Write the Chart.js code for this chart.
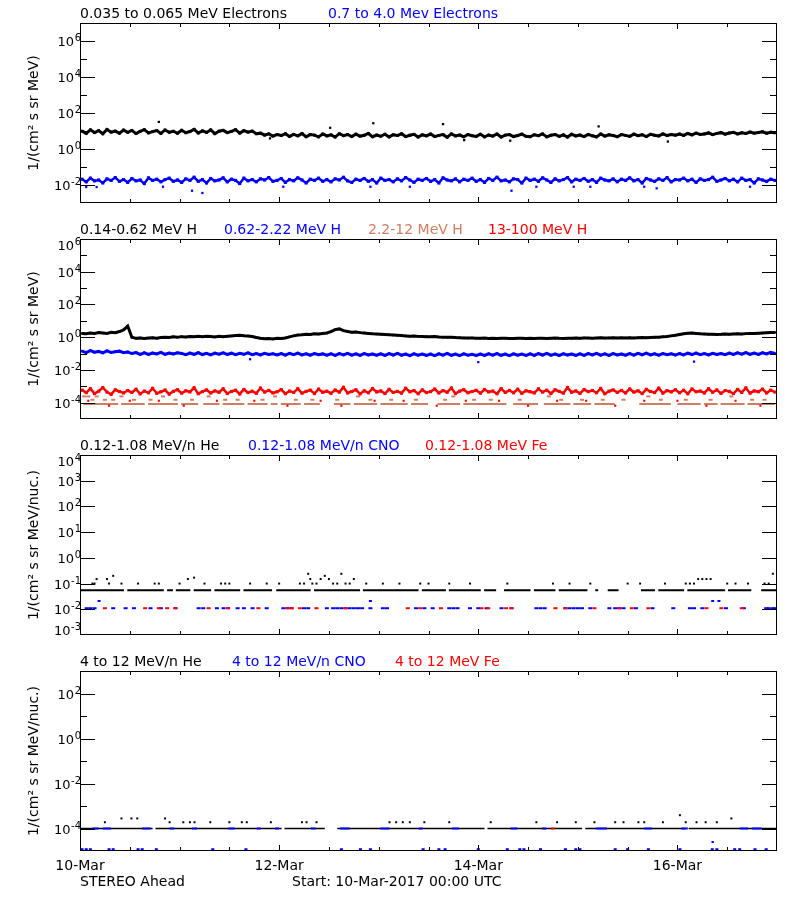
<!DOCTYPE html>
<html>
<head>
<meta charset="utf-8">
<title>STEREO Ahead</title>
<script src="https://cdn.jsdelivr.net/npm/chart.js@4/dist/chart.umd.min.js"></script>
<style>
  html, body { margin: 0; padding: 0; background: #fff; }
  #wrap { position: relative; width: 800px; height: 900px; }
  #wrap canvas { position: absolute; left: 0; }
</style>
</head>
<body>
<div id="wrap">
  <canvas id="p1" width="800" height="216" style="top:0"></canvas>
  <canvas id="p2" width="800" height="216" style="top:216px"></canvas>
  <canvas id="p3" width="800" height="216" style="top:432px"></canvas>
  <canvas id="p4" width="800" height="252" style="top:648px"></canvas>
</div>
<script>
/* global Chart */

// time axis: hours since 10-Mar-2017 00:00, 7 days
const xTickHours = [0, 48, 96, 144];
const xTickLabels = ["10-Mar", "12-Mar", "14-Mar", "16-Mar"];

// ---- panel 1: electrons, hourly, one row = 12 h
const elecLo = [
  9.8, 7.4, 11.6, 8.2, 10.5, 7.0, 12.1, 8.6, 9.9, 7.6, 11.2, 8.4,
  10.8, 7.2, 9.6, 11.9, 7.8, 9.2, 10.6, 7.3, 11.4, 8.5, 9.7, 7.5,
  11.0, 8.0, 9.4, 12.3, 7.7, 10.2, 8.3, 11.5, 7.1, 9.8, 10.9, 8.1,
  9.5, 11.8, 7.6, 10.4, 8.7, 9.9, 7.0, 7.6, 5.9, 6.9, 5.2, 6.4,
  5.6, 7.0, 5.0, 6.5, 5.4, 7.2, 4.8, 6.3, 5.9, 4.7, 6.8, 5.3,
  6.1, 4.6, 7.1, 5.5, 6.4, 4.9, 6.7, 5.2, 5.8, 7.3, 4.8, 6.0,
  5.1, 6.6, 4.7, 6.2, 5.6, 7.0, 4.9, 5.8, 6.5, 4.6, 6.1, 5.4,
  6.8, 4.9, 5.7, 6.3, 4.5, 6.9, 5.3, 6.0, 4.8, 6.4, 5.5, 5.0,
  6.6, 4.7, 6.0, 5.2, 6.8, 4.6, 5.9, 6.3, 4.9, 5.6, 6.7, 5.1,
  4.8, 6.2, 5.5, 6.9, 4.7, 5.8, 6.4, 5.0, 6.1, 4.6, 6.6, 5.3,
  6.0, 4.9, 6.5, 5.4, 4.7, 6.8, 5.2, 6.1, 5.6, 4.8, 6.3, 5.7,
  5.0, 6.7, 5.5, 6.2, 4.9, 6.6, 5.8, 5.3, 6.9, 5.6, 6.4, 5.9,
  6.8, 5.7, 7.3, 6.1, 7.6, 6.4, 6.9, 7.8, 6.3, 7.4, 8.1, 6.7,
  7.7, 8.4, 6.9, 8.0, 7.3, 8.8, 7.6, 8.3, 9.1, 7.5, 8.6, 8.0,
];
const elecLoStray = [[19, 32], [45.8, 3.9], [60.3, 15], [70.7, 27], [87.5, 24],
  [92.6, 3.1], [103.7, 2.9], [125, 18], [141.7, 2.6]];

const elecHi = [
  .021, .015, .024, .017, .019, .013, .022, .018, .026, .016, .020, .014,
  .023, .017, .019, .012, .025, .018, .021, .015, .020, .024, .016, .019,
  .014, .022, .018, .027, .016, .020, .013, .023, .017, .019, .025, .015,
  .021, .018, .012, .024, .017, .020, .015, .022, .019, .026, .016, .018,
  .023, .014, .020, .017, .025, .019, .013, .021, .018, .024, .016, .020,
  .015, .022, .019, .027, .017, .014, .021, .018, .023, .016, .020, .013,
  .024, .018, .020, .015, .022, .017, .026, .019, .014, .021, .018, .023,
  .016, .020, .013, .025, .019, .017, .022, .015, .021, .018, .024, .016,
  .020, .014, .023, .018, .027, .017, .019, .015, .022, .020, .013, .024,
  .018, .021, .016, .025, .019, .014, .022, .017, .020, .026, .015, .021,
  .018, .023, .016, .020, .014, .024, .019, .017, .022, .015, .021, .018,
  .025, .017, .020, .013, .023, .019, .016, .022, .018, .026, .015, .020,
  .019, .024, .017, .021, .014, .022, .018, .020, .027, .016, .019, .023,
  .017, .021, .015, .024, .018, .020, .013, .022, .019, .016, .021, .018,
];
const elecHiStray = [[1.5, .0077], [4, .0077], [20, .008], [27, .0048], [29.5, .0036],
  [49, .008], [70, .008], [79.5, .008], [104, .0048], [110, .008], [119, .008],
  [123, .008], [136, .008], [139, .0065], [161.5, .008]];

// ---- panel 2: protons
const protA = [
  1.7, 1.6, 1.8, 1.7, 1.9, 1.8, 1.7, 2.0, 1.9, 2.2, 2.8, 4.8,
  1.0, 0.85, 0.9, 0.82, 0.88, 0.92, 0.86, 0.95, 1.0, 0.97, 1.05, 1.0,
  1.08, 1.02, 1.1, 1.05, 1.12, 1.07, 1.15, 1.1, 1.04, 1.12, 1.08, 1.14,
  1.2, 1.25, 1.3, 1.22, 1.18, 1.1, 0.95, 0.86, 0.8, 0.83, 0.78, 0.85,
  0.82, 0.9, 1.05, 1.2, 1.35, 1.4, 1.5, 1.45, 1.6, 1.55, 1.7, 1.8,
  2.2, 2.9, 3.2, 2.5, 2.2, 2.0, 2.1, 1.9, 1.8, 1.7, 1.6, 1.55,
  1.5, 1.45, 1.4, 1.35, 1.3, 1.25, 1.2, 1.15, 1.18, 1.12, 1.1, 1.08,
  1.05, 1.1, 1.02, 1.0, 0.98, 1.0, 0.95, 0.93, 0.9, 0.88, 0.9, 0.86,
  0.85, 0.88, 0.84, 0.86, 0.83, 0.85, 0.87, 0.84, 0.82, 0.86, 0.85, 0.83,
  0.86, 0.84, 0.87, 0.85, 0.83, 0.86, 0.88, 0.85, 0.84, 0.87, 0.86, 0.89,
  0.87, 0.9, 0.88, 0.86, 0.89, 0.91, 0.88, 0.9, 0.92, 0.89, 0.91, 0.9,
  0.93, 0.9, 0.92, 0.95, 0.93, 0.96, 0.98, 1.0, 1.05, 1.1, 1.2, 1.3,
  1.45, 1.6, 1.75, 1.8, 1.7, 1.6, 1.55, 1.5, 1.52, 1.48, 1.5, 1.55,
  1.5, 1.58, 1.6, 1.55, 1.65, 1.7, 1.68, 1.75, 1.8, 1.85, 1.9, 1.95,
];
const protB = [
  .14, .115, .15, .12, .135, .11, .145, .118, .13, .14, .112, .125,
  .1, .115, .09, .112, .088, .108, .095, .117, .09, .106, .094, .11,
  .102, .085, .108, .09, .112, .087, .104, .084, .106, .092, .11, .088,
  .105, .086, .103, .09, .11, .085, .1, .082, .104, .088, .098, .083,
  .1, .08, .102, .086, .106, .082, .097, .079, .1, .084, .095, .08,
  .097, .078, .1, .083, .104, .08, .095, .077, .099, .082, .094, .079,
  .095, .076, .098, .081, .102, .079, .093, .075, .097, .08, .092, .078,
  .094, .075, .097, .08, .101, .078, .092, .074, .096, .079, .091, .077,
  .094, .076, .097, .08, .1, .078, .093, .075, .096, .08, .092, .077,
  .095, .077, .098, .081, .102, .079, .094, .076, .097, .081, .093, .078,
  .096, .078, .1, .082, .103, .08, .095, .077, .098, .082, .094, .079,
  .098, .08, .102, .084, .105, .082, .097, .079, .1, .084, .096, .081,
  .101, .083, .105, .087, .108, .085, .1, .082, .104, .087, .1, .085,
  .106, .088, .11, .092, .114, .09, .106, .088, .112, .095, .118, .1,
];
const protBStray = [[41, .045], [96, .03], [148, .032]];

// 2.2-12 MeV H: one-count level runs [from, to] in hours, plus extra counts
const protCLevel = 8.2e-5;
const protCRuns = [[0.8, 9.2], [9.9, 15.6], [16.4, 23.6], [24.4, 28.5], [29.7, 33.6],
  [34.4, 39.6], [40.4, 45.2], [46, 47.6], [48.4, 53.2], [54, 57.8], [61.2, 65.2],
  [66, 71.6], [72.4, 79], [79.8, 83.9], [86.2, 91.6], [92.4, 102.8], [104.4, 110.4],
  [111.8, 118.2], [118.9, 123.2], [124, 128.9], [134.8, 142.4], [144, 149.6],
  [150.4, 153.7], [154.4, 160.2], [160.9, 167.5]];
const protCExtra = [[1, 2.4e-4], [2, 2.4e-4], [3, 1.5e-4], [4, 2.4e-4], [6, 1.5e-4],
  [8, 1.5e-4], [10, 2.4e-4], [13, 1.5e-4], [17, 1.5e-4], [20, 2.4e-4], [23, 1.5e-4],
  [27, 1.5e-4], [31, 2.4e-4], [35, 1.5e-4], [38, 1.5e-4], [44, 1.5e-4], [47, 2.4e-4],
  [52, 1.5e-4], [56, 1.5e-4], [62, 1.5e-4], [67, 2.4e-4], [70, 1.5e-4], [75, 1.5e-4],
  [81, 1.5e-4], [88, 1.5e-4], [90, 2.4e-4], [95, 1.5e-4], [99, 1.5e-4], [106, 1.5e-4],
  [113, 2.4e-4], [116, 1.5e-4], [121, 1.5e-4], [126, 1.5e-4], [131, 1.5e-4],
  [137, 2.4e-4], [140, 1.5e-4], [146, 1.5e-4], [152, 1.5e-4], [157, 2.4e-4],
  [162, 1.5e-4], [165, 1.5e-4]];

// 13-100 MeV H, in units of 1e-4
const protD = [
  5.8, 4.1, 7.2, 3.6, 5.0, 8.4, 4.4, 3.2, 6.1, 4.8, 3.9, 5.5,
  4.2, 6.6, 3.4, 5.1, 4.0, 7.5, 3.7, 4.6, 5.9, 3.3, 4.9, 6.2,
  3.8, 5.3, 4.5, 8.1, 3.5, 4.7, 6.0, 3.9, 5.2, 4.3, 7.0, 3.6,
  4.8, 5.7, 3.4, 6.4, 4.1, 5.0, 3.7, 7.8, 4.4, 5.6, 3.9, 4.6,
  6.3, 3.5, 5.1, 4.2, 7.1, 3.8, 4.9, 5.8, 3.6, 6.7, 4.3, 5.0,
  3.7, 5.9, 4.4, 8.6, 3.9, 4.8, 6.1, 3.4, 5.3, 4.0, 7.3, 4.5,
  5.2, 3.6, 6.5, 4.2, 4.9, 3.8, 7.6, 4.6, 5.5, 3.5, 6.0, 4.1,
  4.7, 6.8, 3.9, 5.4, 4.3, 7.9, 3.6, 5.0, 6.2, 4.0, 4.8, 5.7,
  3.8, 6.4, 4.5, 5.1, 3.5, 7.2, 4.2, 5.6, 4.0, 6.6, 3.7, 5.3,
  4.6, 3.9, 7.0, 4.4, 5.8, 3.6, 6.1, 4.9, 3.8, 8.3, 4.3, 5.2,
  3.7, 6.3, 4.7, 5.5, 4.0, 7.4, 3.5, 5.0, 6.0, 4.2, 5.6, 3.9,
  6.9, 4.4, 5.3, 3.6, 6.5, 4.8, 4.1, 7.7, 3.8, 5.4, 4.5, 6.2,
  4.0, 5.7, 3.5, 6.8, 4.6, 5.1, 3.9, 7.1, 4.3, 6.0, 3.7, 5.5,
  4.9, 3.6, 6.4, 4.2, 8.0, 3.8, 5.2, 4.6, 6.7, 3.9, 5.8, 4.4,
];
const protDLow = [[2, 1.3], [7, 0.65], [12, 1.3], [19, 1.3], [25, 0.65], [33, 1.3],
  [42, 1.3], [50, 0.65], [58, 1.3], [63, 0.65], [71, 1.3], [78, 1.3], [86, 0.65],
  [93, 1.3], [101, 1.3], [108, 0.65], [115, 1.3], [122, 1.3], [129, 0.65], [136, 1.3],
  [144, 1.3], [151, 0.65], [158, 1.3], [164, 0.65]];

// ---- panel 3: 0.12-1.08 MeV/n ions
const he3Level = 0.055;
const he3Runs = [[0, 10.6], [11.4, 20.2], [21, 22.4], [23.1, 26.6], [27.4, 31.6],
  [32.4, 38.6], [39.4, 46.3], [47.3, 55.6], [56.4, 67.5], [68.2, 81.6], [82.4, 88.2],
  [88.9, 96.6], [97.4, 100.3], [102.2, 108.6], [109.4, 114.6], [115.4, 122.3],
  [124.2, 124.9], [127.2, 129.8], [135.2, 138.6], [139.4, 145.6], [146.4, 155.5],
  [156.2, 161.8], [164.2, 168]];
const he3Extra = [[3, .1], [3.5, .1], [4, .15], [6.5, .15], [7, .1], [8, .2], [10, .1],
  [14, .1], [18, .1], [19, .1], [24, .1], [26, .15], [27.5, .17], [30, .1], [34, .1],
  [35, .1], [36, .1], [41, .1], [45, .1], [48, .1], [53, .1], [54, .1], [55, .24],
  [55.5, .15], [56, .1], [57, .1], [58, .15], [59, .2], [60, .15], [61, .1], [62, .1],
  [63, .24], [64, .1], [65, .1], [66, .15], [69, .1], [73, .1], [77, .1], [82, .1],
  [84, .1], [89, .1], [94, .1], [103, .1], [114, .1], [118, .1], [123, .1], [132, .1],
  [135, .1], [141, .1], [146, .1], [147, .1], [148, .1], [149, .15], [150, .15],
  [151, .15], [152, .15], [156, .1], [158, .1], [161, .1], [165, .1], [166, .1],
  [167, .24]];
const cno3Level = 0.011;
const cno3Hours = [1.6, 2.5, 3.5, 8, 11, 13, 17, 19.5, 23, 28.6, 29.7, 33, 34.6, 35.7,
  38, 39.5, 41.6, 45, 49, 50, 51, 54, 55, 59.5, 61, 62, 63, 64, 65, 66, 67, 68, 70, 73,
  74, 81, 83, 85, 89, 90, 91, 94, 96, 98, 101.6, 104, 110, 111, 112, 117, 118, 119,
  120, 121, 123, 127.6, 129, 130, 131, 134, 138, 143, 147, 148, 150, 155.7, 160,
  165.4, 166, 167, 167.6];
const cno3High = [[4.6, .021], [70, .021], [152.5, .021], [154, .021]];
const fe3Level = 0.011;
const fe3Hours = [6, 15.7, 19, 21, 23, 31, 35.7, 43, 50, 51, 53, 57, 64, 79, 82, 87,
  96.8, 98.4, 102.7, 104, 114.6, 117, 124, 130, 133, 137, 151, 154.6, 159.5];

// ---- panel 4: 4-12 MeV/n ions
const he4Level = 1e-4;
const he4Runs = [[0, 17.5], [18.2, 48.6], [49.3, 59], [62, 97.5], [98.2, 121],
  [121.8, 146], [146.7, 168]];
// in units of 1e-4
const he4Extra = [[6, 1.9], [10, 2.8], [12.4, 2.8], [13.8, 2.8], [20.5, 2.8], [21.6, 1.9],
  [24.9, 1.9], [26.5, 1.9], [27.6, 1.9], [31.4, 1.9], [36, 1.9], [39, 1.9], [40.2, 1.9],
  [46, 1.9], [53.5, 1.9], [54.6, 1.9], [57, 1.9], [74.6, 1.9], [76.2, 1.9], [77.8, 1.9],
  [79.5, 1.9], [83, 1.9], [89, 1.9], [99, 1.9], [110, 1.9], [115, 1.9], [119.5, 1.9],
  [124, 1.9], [129, 1.9], [131, 1.9], [134.6, 1.9], [136, 1.9], [140.5, 1.9],
  [144.6, 3.9], [146, 1.9], [148.6, 1.9], [150.8, 1.9], [153.5, 1.9], [157, 2.8]];
const cno4Level = 1e-4;
const cno4Runs = [[3, 4.5], [5.5, 7.5], [15, 17], [21.6, 22.7], [27, 28.2], [35.7, 37.3],
  [42.6, 43.6], [47, 48], [55.7, 56.8], [62.7, 65], [72.4, 74.6], [81.6, 82.6],
  [89.7, 91.4], [103.8, 105.4], [111.4, 112.4], [124.3, 127], [136, 137.8],
  [145, 146.5], [159, 161], [162, 164.3]];
const cno4LowLevel = 1.2e-5;
const cno4LowHours = [0.5, 1.5, 2.5, 7, 8, 14, 15, 18.4, 32, 40, 63, 67.6, 70, 82.7,
  86.5, 88, 96, 103, 106, 107, 111, 117, 119.5, 120.5, 129, 132, 137, 144.6, 152.4,
  153.5, 157.8, 159, 162.7, 165.4];
const cno4High = [[152.5, 2.5e-5]];
const fe4Level = 1e-4;
const fe4Hours = [114];

// y tick decades
const p1Labels = [6, 4, 2, 0, -2];
const p2Labels = [6, 4, 2, 0, -2, -4];
const p3Labels = [4, 3, 2, 1, 0, -1, -2, -3];
const p4Labels = [2, 0, -2, -4];

const BLACK = "#000000";
const BLUE = "#0000ff";
const RED = "#ff0000";
const BROWN = "#cd7f62";
const FONT = "'DejaVu Sans', sans-serif";

const hourly = (vals, scale = 1) => vals.map((v, i) => ({ x: i + 0.5, y: v * scale }));
const pairs = (list, scale = 1) => list.map(([h, v]) => ({ x: h, y: v * scale }));
const atLevel = (hours, level) => hours.map((h) => ({ x: h, y: level }));
const runPoints = (runs, level) =>
  runs.flatMap(([s, e]) => [{ x: s, y: level }, { x: e, y: level }, { x: e, y: null }]);

function band(data, color, width, r) {
  return {
    data, borderColor: color, backgroundColor: color, borderWidth: width,
    pointStyle: "rect", pointRadius: r, pointBorderWidth: 0, showLine: true, tension: 0,
  };
}
function dots(data, color, r) {
  return {
    data, showLine: false, backgroundColor: color, borderColor: color,
    pointStyle: "rect", pointRadius: r, pointBorderWidth: 0,
  };
}
function dashes(data, color, r) {
  return {
    data, showLine: false, backgroundColor: color, borderColor: color,
    pointStyle: "line", pointRadius: r, pointBorderWidth: 2,
  };
}
function runs(data, color, w) {
  return {
    data, showLine: true, spanGaps: false, borderColor: color, backgroundColor: color,
    borderWidth: w, pointRadius: 0, borderCapStyle: "butt",
  };
}

const framePlugin = {
  id: "frame",
  afterDraw(chart, args, o) {
    const { ctx, chartArea: a } = chart;
    const xs = chart.scales.x;
    const ys = chart.scales.y;
    const L = Math.round(a.left);
    const R = Math.round(a.right);
    const T = Math.round(a.top);
    const B = Math.round(a.bottom);
    ctx.save();
    ctx.fillStyle = BLACK;
    // frame
    ctx.fillRect(L, T, R - L, 1);
    ctx.fillRect(L, B - 1, R - L, 1);
    ctx.fillRect(L, T, 1, B - T);
    ctx.fillRect(R - 1, T, 1, B - T);

    // y ticks, pointing inwards on both sides
    for (let e = o.minExp; e <= o.maxExp; e++) {
      const major = o.majors.indexOf(e) >= 0;
      const minor = o.minors.indexOf(e) >= 0;
      if (!major && !minor) continue;
      const py = Math.round(ys.getPixelForValue(10 ** e));
      const len = major ? 15 : 7;
      ctx.fillRect(L, py, len, 1);
      ctx.fillRect(R - len, py, len, 1);
    }
    // x ticks every 12 h, longer every 2 days
    for (let h = 0; h <= 168; h += 12) {
      const px = Math.round(xs.getPixelForValue(h));
      const len = h % 48 === 0 ? 6 : 4;
      ctx.fillRect(Math.min(px, R - 1), B - len, 1, len);
      ctx.fillRect(Math.min(px, R - 1), T, 1, len);
    }

    // y tick labels 10^n
    ctx.textBaseline = "alphabetic";
    ctx.textAlign = "right";
    for (const e of o.labels) {
      const py = ys.getPixelForValue(10 ** e);
      const base = Math.min(Math.max(py + 5, a.top + 11), a.bottom);
      ctx.font = `10px ${FONT}`;
      const ex = String(e);
      ctx.fillText(ex, a.left + 1, base - 5);
      const w = ctx.measureText(ex).width;
      ctx.font = `13px ${FONT}`;
      ctx.fillText("10", a.left + 0.5 - w, base);
    }

    // panel titles
    ctx.font = `14px ${FONT}`;
    ctx.textAlign = "left";
    for (const t of o.titles) {
      ctx.fillStyle = t.color;
      ctx.fillText(t.text, t.x, a.top - 5);
    }

    // y axis title
    ctx.fillStyle = BLACK;
    ctx.save();
    ctx.translate(34, (a.top + a.bottom) / 2);
    ctx.rotate(-Math.PI / 2);
    ctx.textAlign = "center";
    ctx.textBaseline = "middle";
    ctx.fillText(o.yTitle, 0, 0);
    ctx.restore();

    if (o.footer) {
      ctx.textAlign = "center";
      xTickHours.forEach((h, i) => {
        ctx.fillText(xTickLabels[i], xs.getPixelForValue(h), a.bottom + 19);
      });
      ctx.textAlign = "left";
      ctx.fillText("STEREO Ahead", 80, a.bottom + 35);
      ctx.fillText("Start: 10-Mar-2017 00:00 UTC", 292, a.bottom + 35);
    }
    ctx.restore();
  },
};

function makeChart(id, datasets, panel, bottomPad) {
  return new Chart(document.getElementById(id), {
    type: "line",
    data: { datasets },
    options: {
      responsive: false,
      animation: false,
      devicePixelRatio: 1,
      events: [],
      layout: { padding: { left: 80, right: 23, top: 23, bottom: bottomPad } },
      scales: {
        x: { type: "linear", min: 0, max: 168, display: false },
        y: { type: "logarithmic", min: 10 ** panel.minExp, max: 10 ** panel.maxExp, display: false },
      },
      plugins: { legend: { display: false }, tooltip: { enabled: false }, frame: panel },
    },
    plugins: [framePlugin],
  });
}

makeChart("p1", [
  dots(pairs(elecLoStray), BLACK, 1.6),
  band(hourly(elecLo), BLACK, 3, 2),
  dots(pairs(elecHiStray), BLUE, 1.6),
  band(hourly(elecHi), BLUE, 2.5, 2.2),
], {
  minExp: -3, maxExp: 7, labels: p1Labels, majors: p1Labels, minors: [5, 3, 1, -1],
  yTitle: "1/(cm² s sr MeV)",
  titles: [
    { text: "0.035 to 0.065 MeV Electrons", color: BLACK, x: 80 },
    { text: "0.7 to 4.0 Mev Electrons", color: BLUE, x: 328 },
  ],
}, 13);

makeChart("p2", [
  band(hourly(protA), BLACK, 3, 1.6),
  dots(pairs(protBStray), BLUE, 1.6),
  band(hourly(protB), BLUE, 3, 1.8),
  dots(pairs(protDLow, 1e-4), RED, 1.5),
  band(hourly(protD, 1e-4), RED, 2.5, 2.2),
  dashes(pairs(protCExtra), BROWN, 2),
  runs(runPoints(protCRuns, protCLevel), BROWN, 2),
], {
  minExp: -5, maxExp: 6, labels: p2Labels, majors: [4, 2, 0, -2, -4], minors: [5, 3, 1, -1, -3],
  yTitle: "1/(cm² s sr MeV)",
  titles: [
    { text: "0.14-0.62 MeV H", color: BLACK, x: 80 },
    { text: "0.62-2.22 MeV H", color: BLUE, x: 224 },
    { text: "2.2-12 MeV H", color: BROWN, x: 368 },
    { text: "13-100 MeV H", color: RED, x: 488 },
  ],
}, 13);

makeChart("p3", [
  dots(pairs(he3Extra), BLACK, 1.4),
  runs(runPoints(he3Runs, he3Level), BLACK, 2),
  dashes(atLevel(fe3Hours, fe3Level), RED, 2),
  dashes(atLevel(cno3Hours, cno3Level), BLUE, 2),
  dashes(pairs(cno3High), BLUE, 1.5),
], {
  minExp: -3, maxExp: 4, labels: p3Labels, majors: [3, 2, 1, 0, -1, -2], minors: [],
  yTitle: "1/(cm² s sr MeV/nuc.)",
  titles: [
    { text: "0.12-1.08 MeV/n He", color: BLACK, x: 80 },
    { text: "0.12-1.08 MeV/n CNO", color: BLUE, x: 248 },
    { text: "0.12-1.08 MeV Fe", color: RED, x: 425 },
  ],
}, 13);

makeChart("p4", [
  dashes(atLevel(fe4Hours, fe4Level), RED, 1.5),
  runs(runPoints(cno4Runs, cno4Level), BLUE, 2),
  dots(pairs(he4Extra, 1e-4), BLACK, 1.4),
  runs(runPoints(he4Runs, he4Level), BLACK, 1.5),
  dashes(atLevel(cno4LowHours, cno4LowLevel), BLUE, 1.5),
  dashes(pairs(cno4High), BLUE, 1.2),
], {
  minExp: -5, maxExp: 3, labels: p4Labels, majors: p4Labels, minors: [1, -1, -3],
  yTitle: "1/(cm² s sr MeV/nuc.)",
  footer: true,
  titles: [
    { text: "4 to 12 MeV/n He", color: BLACK, x: 80 },
    { text: "4 to 12 MeV/n CNO", color: BLUE, x: 232 },
    { text: "4 to 12 MeV Fe", color: RED, x: 395 },
  ],
}, 49);
</script>
</body>
</html>
